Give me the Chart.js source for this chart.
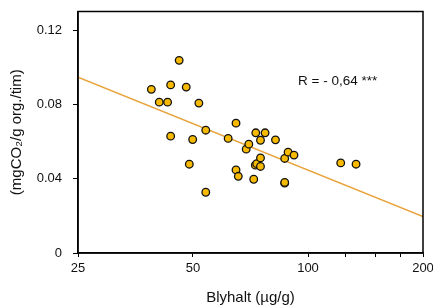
<!DOCTYPE html>
<html>
<head>
<meta charset="utf-8">
<script src="https://cdn.jsdelivr.net/npm/chart.js@4/dist/chart.umd.min.js"></script>
<style>
html,body{margin:0;padding:0;background:#fff;}
#wrap{width:433px;height:307px;}
</style>
</head>
<body>
<div id="wrap"><canvas id="c" width="433" height="307"></canvas></div>
<script>
// Blyhalt (µg/g)
const leadValues = [38.9, 40.8, 42.9, 43.7, 46.0, 48.0, 51.8, 43.7, 49.9, 48.9, 54.0, 54.0,
  61.8, 64.8, 64.8, 65.7, 68.9, 70.0, 72.1, 73.0, 72.8, 73.4, 75.1, 75.1, 75.1, 77.2,
  82.2, 86.9, 86.9, 86.9, 88.7, 91.9, 121.8, 133.6];
// respiration (mgCO2/g org./tim)
const respValues = [0.0881, 0.0812, 0.0812, 0.0905, 0.1037, 0.0893, 0.0807, 0.0629, 0.0611, 0.0478, 0.0661, 0.0327,
  0.0617, 0.0699, 0.0447, 0.0413, 0.0559, 0.0586, 0.0397, 0.0647, 0.0473, 0.0481, 0.0512, 0.0466, 0.0607, 0.0647,
  0.0609, 0.0509, 0.0376, 0.0380, 0.0543, 0.0527, 0.0485, 0.0478];
// regression line end points
const fitX = [25, 200];
const fitY = [0.0947, 0.0196];
const xTickValues = [25, 50, 100, 125, 150, 175, 200];
const xTickLabels = ['25', '50', '100', '', '', '', '200'];
const yTickValues = [0, 0.04, 0.08, 0.12];
const yTickLabels = ['0', '0.04', '0.08', '0.12'];
const annotationText = 'R = - 0,64 ***';

const FONT = '"Liberation Sans", Arial, Helvetica, sans-serif';

const boxPlugin = {
  id: 'box',
  afterDraw(chart) {
    const {ctx, chartArea: a} = chart;
    ctx.save();
    ctx.strokeStyle = '#000';
    ctx.lineWidth = 1.5;
    ctx.strokeRect(a.left, a.top, a.right - a.left, a.bottom - a.top);
    ctx.fillStyle = '#111';
    ctx.font = '13.5px ' + FONT;
    ctx.textAlign = 'left';
    ctx.textBaseline = 'middle';
    ctx.fillText(annotationText, a.left + 220, a.top + 70);
    ctx.restore();
  }
};

new Chart(document.getElementById('c'), {
  type: 'scatter',
  data: {
    datasets: [
      {
        type: 'line',
        data: fitX.map((x, i) => ({x: x, y: fitY[i]})),
        borderColor: '#E8A33A',
        borderWidth: 1.5,
        pointRadius: 0,
        fill: false,
        order: 2
      },
      {
        data: leadValues.map((x, i) => ({x: x, y: respValues[i]})),
        backgroundColor: '#F7BA00',
        borderColor: '#111',
        borderWidth: 1.3,
        pointRadius: 3.8,
        order: 1
      }
    ]
  },
  options: {
    responsive: false,
    animation: false,
    plugins: {legend: {display: false}, tooltip: {enabled: false}},
    layout: {padding: {top: 11.5, right: 10, left: 0, bottom: 0}},
    scales: {
      x: {
        type: 'logarithmic',
        min: 25, max: 200,
        afterBuildTicks: s => { s.ticks = xTickValues.map(v => ({value: v})); },
        afterFit: s => { s.height = 54; s.paddingLeft = 0; s.paddingRight = 0; },
        ticks: {
          autoSkip: false, maxRotation: 0, padding: 4,
          color: '#111', font: {family: FONT, size: 13},
          callback: (v) => { const i = xTickValues.indexOf(v); return i >= 0 ? xTickLabels[i] : ''; }
        },
        grid: {drawOnChartArea: false, color: '#000', tickLength: 4, lineWidth: 1},
        border: {display: true, color: '#000', width: 1.5},
        title: {display: true, text: 'Blyhalt (µg/g)', color: '#111', font: {family: FONT, size: 15}, padding: {top: 4, bottom: 0}}
      },
      y: {
        min: 0, max: 0.13,
        afterBuildTicks: s => { s.ticks = yTickValues.map(v => ({value: v})); },
        afterFit: s => { s.width = 78; s.paddingTop = 0; s.paddingBottom = 0; },
        ticks: {
          color: '#111', font: {family: FONT, size: 13}, padding: 11,
          callback: (v) => { const i = yTickValues.indexOf(v); return i >= 0 ? yTickLabels[i] : ''; }
        },
        grid: {drawOnChartArea: false, color: '#000', tickLength: 5, lineWidth: 1},
        border: {display: true, color: '#000', width: 1.5},
        title: {display: true, text: '(mgCO₂/g org./tim)', color: '#111', font: {family: FONT, size: 15}, padding: {top: 8, bottom: 0}}
      }
    }
  },
  plugins: [boxPlugin]
});
</script>
</body>
</html>
